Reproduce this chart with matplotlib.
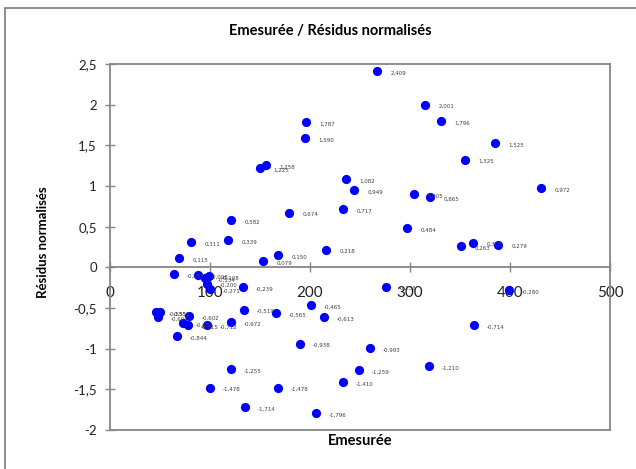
import matplotlib
matplotlib.use("Agg")
import matplotlib.pyplot as plt
from matplotlib.patches import Rectangle

# Data (Emesurée, résidus normalisés)
emesuree = [267, 315, 331, 196, 385, 355, 195, 156, 150, 236,
            244, 431, 304, 320, 179, 233, 121, 297, 81, 118,
            69, 168, 153, 216, 351, 363, 388, 64, 88, 99,
            95, 97, 100, 133, 276, 399, 134, 166, 201, 214,
            364, 46, 50, 48, 79, 73, 78, 97, 121, 67,
            190, 260, 319, 249, 233, 121, 100, 168, 135, 206]
residus = [2.409, 2.001, 1.796, 1.787, 1.525, 1.325, 1.590, 1.258, 1.225, 1.082,
           0.949, 0.972, 0.905, 0.865, 0.674, 0.717, 0.582, 0.484, 0.311, 0.339,
           0.115, 0.150, 0.079, 0.218, 0.263, 0.305, 0.279, -0.085, -0.098, -0.108,
           -0.134, -0.200, -0.271, -0.239, -0.236, -0.280, -0.519, -0.565, -0.465, -0.613,
           -0.714, -0.555, -0.552, -0.607, -0.602, -0.683, -0.715, -0.712, -0.672, -0.844,
           -0.938, -0.993, -1.210, -1.259, -1.410, -1.255, -1.478, -1.478, -1.714, -1.796]

x_ticks = [0, 100, 200, 300, 400, 500]
y_ticks = [2.5, 2, 1.5, 1, 0.5, 0, -0.5, -1, -1.5, -2]
y_tick_labels = ["2,5", "2", "1,5", "1", "0,5", "0", "-0,5", "-1", "-1,5", "-2"]

title = "Emesurée / Résidus normalisés"
xlabel = "Emesurée"
ylabel = "Résidus normalisés"

FONT = "Lato"
GRAY = "#868686"
W, H = 636, 469

fig = plt.figure(figsize=(W / 100, H / 100), dpi=100)
ax = fig.add_axes([110 / W, 1 - 430 / H, 500 / W, 366 / H])

ax.scatter(emesuree, residus, s=44, color="#0000FF", zorder=3, linewidths=0)
for xv, yv in zip(emesuree, residus):
    ax.annotate(f"{yv:.3f}".replace(".", ","), (xv, yv), xytext=(9.5, -1.5),
                textcoords="offset points", fontsize=4, color="#404040",
                va="center", ha="left", family="DejaVu Sans")

ax.set_xlim(0, 500)
ax.set_ylim(-2, 2.5)

for s in ax.spines.values():
    s.set_color(GRAY)
    s.set_linewidth(1.3)

ax.set_yticks(y_ticks)
ax.set_yticklabels(y_tick_labels, family=FONT, fontsize=9.5, color="#222222")
ax.tick_params(axis="y", direction="inout", length=7, width=1, color=GRAY, pad=6)
ax.set_xticks([])

# horizontal axis crossing at y = 0
sec = ax.secondary_xaxis(2 / 4.5)
sec.spines["bottom"].set_color(GRAY)
sec.spines["bottom"].set_linewidth(1.3)
sec.set_xticks(x_ticks)
sec.set_xticklabels([str(t) for t in x_ticks], family=FONT, fontsize=11, color="#222222")
sec.tick_params(axis="x", direction="inout", length=7, width=1, color=GRAY, pad=10)

fig.text(330 / W, 1 - 31 / H, title, ha="center", va="center",
         family=FONT, fontweight="bold", fontsize=10.5, color="#000000")
fig.text(360 / W, 1 - 441 / H, xlabel, ha="center", va="center",
         family=FONT, fontweight="bold", fontsize=10.5, color="#000000")
fig.text(43 / W, 1 - 242 / H, ylabel, ha="center", va="center", rotation=90,
         family=FONT, fontweight="bold", fontsize=9.5, color="#000000")

# outer chart area border (extends beyond right/bottom of the image)
fig.patches.append(Rectangle((5 / W, -0.2), 1.2, 1.2 - 8 / H, transform=fig.transFigure,
                             fill=False, edgecolor=GRAY, linewidth=1.3, clip_on=False))

fig.savefig("out.png", dpi=100)
